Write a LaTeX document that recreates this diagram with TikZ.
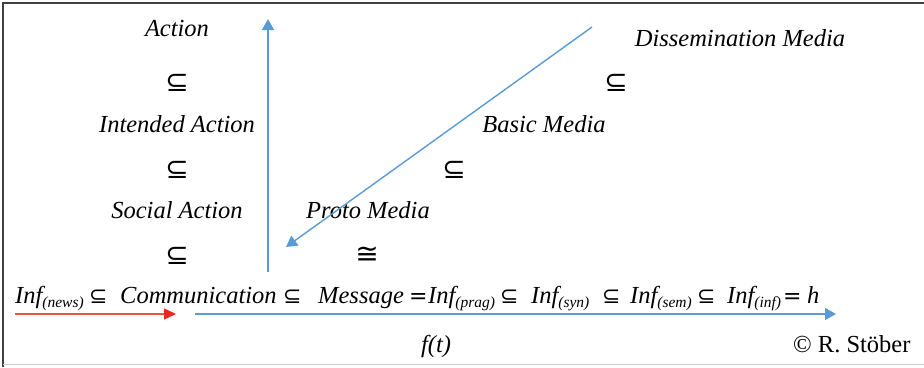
\documentclass[tikz,border=0pt]{standalone}
\usepackage{fontspec}
\setmainfont{Liberation Serif}
\newfontfamily\symf{DejaVu Sans}
\usetikzlibrary{arrows.meta}
\definecolor{axblue}{RGB}{91,155,213}
\definecolor{axred}{RGB}{232,88,58}
\definecolor{tipred}{RGB}{232,40,30}
\newcommand\infsub[1]{Inf\raisebox{-4pt}{\fontsize{15.5}{18}\selectfont #1}}
\begin{document}
\begin{tikzpicture}[x=1pt,y=-1pt,
  lbl/.style={font=\fontsize{24.5}{28}\selectfont\itshape, inner sep=0pt, anchor=base},
  rel/.style={font=\fontsize{28}{32}\selectfont\symf, inner sep=0pt},
  frm/.style={font=\fontsize{24.5}{28}\selectfont\itshape, inner sep=0pt, anchor=base west},
  frel/.style={font=\fontsize{22}{26}\selectfont\symf, inner sep=0pt, anchor=base west},
  bluearrow/.style={draw=axblue, line width=1.4pt, -{Triangle[length=11pt,width=12pt]}},
  redarrow/.style={draw=axred, line width=1.4pt, -{Triangle[length=12pt,width=11pt,fill=tipred,color=tipred]}},
]
\useasboundingbox (0,0) rectangle (924,367);
% frame
\draw[line width=1.6pt, black!75] (3,367) -- (3,3) -- (924,3);
\draw[line width=0.8pt, black!20] (3,364.5) -- (924,364.5);

% left column
\node[lbl] (action) at (177,36) {Action};
\node[rel] (s1) at (177,83) {⊆};
\node[lbl] (intended) at (177,132) {Intended Action};
\node[rel] (s2) at (177,170) {⊆};
\node[lbl] (social) at (177,218) {Social Action};
\node[rel] (s3) at (177,256) {⊆};

% media diagonal
\node[lbl] (dissem) at (740,46) {Dissemination Media};
\node[rel] (m1) at (616,83) {⊆};
\node[lbl] (basic) at (544,132) {Basic Media};
\node[rel] (m2) at (454,170) {⊆};
\node[lbl] (proto) at (368,218) {Proto Media};
\node[rel] (m3) at (367,255) {≅};

% main formula
\node[frm] (i1) at (15,303) {\infsub{(news)}};
\node[frel] (r1) at (89,303) {⊆};
\node[frm] (comm) at (120,303) {Communication};
\node[frel] (r2) at (283,303) {⊆};
\node[frm] (msg) at (318,303) {Message};
\node[frel] (r3) at (409,303) {=};
\node[frm] (i2) at (428,303) {\infsub{(prag)}};
\node[frel] (r4) at (500,303) {⊆};
\node[frm] (i3) at (531,303) {\infsub{(syn)}};
\node[frel] (r5) at (602,303) {⊆};
\node[frm] (i4) at (630,303) {\infsub{(sem)}};
\node[frel] (r6) at (697,303) {⊆};
\node[frm] (i5) at (727,303) {\infsub{(inf)}};
\node[frel] (r7) at (783,303) {=};
\node[frm] (h) at (807,303) {h};

\node[lbl] (ft) at (436,352) {f(t)};
\node[font=\fontsize{24.5}{28}\selectfont, inner sep=0pt, anchor=base west] (copy) at (793,352) {© R. Stöber};

% arrows
\coordinate (vb) at (268,272);
\coordinate (vt) at (268,19);
\draw[bluearrow] (vb) -- (vt);
\coordinate (ds) at (592,27);
\coordinate (de) at (286,247);
\draw[bluearrow] (ds) -- (de);
\coordinate (hs) at (195,314);
\coordinate (he) at (836,314);
\draw[bluearrow] (hs) -- (he);
\coordinate (rs) at (15,314);
\coordinate (re) at (176,314);
\draw[redarrow] (rs) -- (re);
\end{tikzpicture}
\end{document}
